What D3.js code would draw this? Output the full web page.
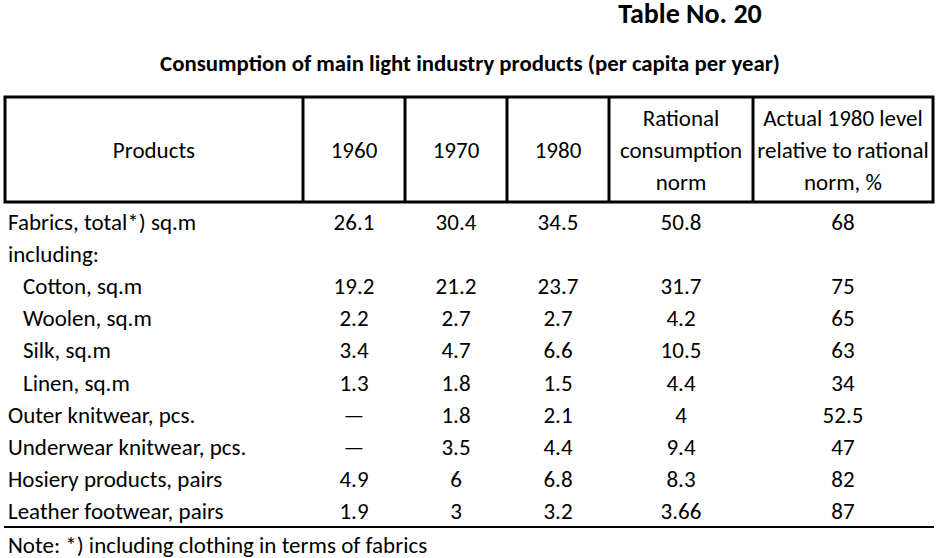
<!DOCTYPE html>
<html>
<head>
<meta charset="utf-8">
<script src="https://cdn.jsdelivr.net/npm/d3@7"></script>
<style>
  body { margin: 0; background: #fff; }
  svg text { font-family: Calibri, Carlito, Lato, sans-serif; fill: #000; }
</style>
</head>
<body>
<svg id="chart" width="939" height="558"></svg>
<script>
// table data
var headers = [
  ["Products"],
  ["1960"],
  ["1970"],
  ["1980"],
  ["Rational", "consumption", "norm"],
  ["Actual 1980 level", "relative to rational", "norm, %"]
];
var products = [
  "Fabrics, total*) sq.m", "including:", "Cotton, sq.m", "Woolen, sq.m",
  "Silk, sq.m", "Linen, sq.m", "Outer knitwear, pcs.",
  "Underwear knitwear, pcs.", "Hosiery products, pairs", "Leather footwear, pairs"
];
var indented = [false, false, true, true, true, true, false, false, false, false];
var v1960 = ["26.1", "", "19.2", "2.2", "3.4", "1.3", "—", "—", "4.9", "1.9"];
var v1970 = ["30.4", "", "21.2", "2.7", "4.7", "1.8", "1.8", "3.5", "6", "3"];
var v1980 = ["34.5", "", "23.7", "2.7", "6.6", "1.5", "2.1", "4.4", "6.8", "3.2"];
var norm = ["50.8", "", "31.7", "4.2", "10.5", "4.4", "4", "9.4", "8.3", "3.66"];
var pctOfNorm = ["68", "", "75", "65", "63", "34", "52.5", "47", "82", "87"];
var title = "Table No. 20";
var subtitle = "Consumption of main light industry products (per capita per year)";
var note = "Note: *) including clothing in terms of fabrics";

var svg = d3.select("#chart");

// column boundaries (table layout)
var edges = [5, 303, 405, 507, 609, 753, 933];
var columns = [v1960, v1970, v1980, norm, pctOfNorm];

var headTop = 97, headBottom = 202, tableBottom = 527;
var fontSize = "23px";

var row = d3.scaleBand()
  .domain(d3.range(products.length))
  .range([206, 527])
  .paddingInner(0);

svg.append("text")
  .attr("x", 690).attr("y", 23)
  .attr("text-anchor", "middle")
  .style("font-size", "28px").style("font-weight", "bold")
  .text(title);

svg.append("text")
  .attr("x", 470).attr("y", 71)
  .attr("text-anchor", "middle")
  .style("font-size", "22.8px").style("font-weight", "bold")
  .text(subtitle);

// header box
var g = svg.append("g");
g.append("rect")
  .attr("x", edges[0]).attr("y", headTop)
  .attr("width", edges[6] - edges[0]).attr("height", headBottom - headTop)
  .attr("fill", "none").attr("stroke", "#000").attr("stroke-width", 3);

g.selectAll("line.col")
  .data(edges.slice(1, -1))
  .join("line")
  .attr("class", "col")
  .attr("x1", function (d) { return d; }).attr("x2", function (d) { return d; })
  .attr("y1", headTop).attr("y2", headBottom)
  .attr("stroke", "#000").attr("stroke-width", 3);

var mid = (headTop + headBottom) / 2;
g.selectAll("text.head")
  .data(headers)
  .join("text")
  .attr("class", "head")
  .attr("text-anchor", "middle")
  .style("font-size", fontSize)
  .attr("x", function (d, i) { return (edges[i] + edges[i + 1]) / 2; })
  .each(function (d) {
    var t = d3.select(this);
    d.forEach(function (line, k) {
      t.append("tspan")
        .attr("x", t.attr("x"))
        .attr("y", mid + 8 + (k - (d.length - 1) / 2) * 32)
        .text(line);
    });
  });

// body rows
var body = svg.append("g");
var rows = body.selectAll("g.row")
  .data(products)
  .join("g")
  .attr("class", "row")
  .attr("transform", function (d, i) { return "translate(0," + (row(i) + row.bandwidth() / 2 + 8) + ")"; });

rows.append("text")
  .attr("x", function (d, i) { return indented[i] ? 23 : 8; })
  .style("font-size", fontSize)
  .text(function (d) { return d; });

columns.forEach(function (col, c) {
  rows.append("text")
    .attr("x", (edges[c + 1] + edges[c + 2]) / 2)
    .attr("text-anchor", "middle")
    .style("font-size", fontSize)
    .text(function (d, i) { return col[i]; });
});

svg.append("line")
  .attr("x1", edges[0] - 1).attr("x2", edges[6] + 1)
  .attr("y1", tableBottom).attr("y2", tableBottom)
  .attr("stroke", "#000").attr("stroke-width", 2);

svg.append("text")
  .attr("x", 8).attr("y", 553)
  .style("font-size", fontSize)
  .text(note);
</script>
</body>
</html>
